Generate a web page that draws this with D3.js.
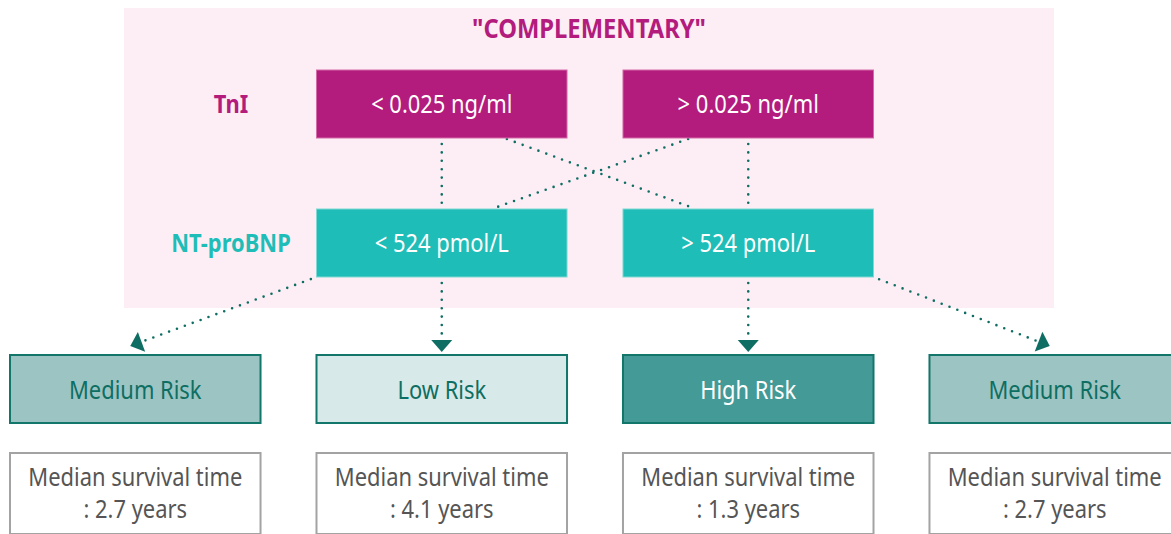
<!DOCTYPE html>
<html><head><meta charset="utf-8">
<script src="https://cdn.jsdelivr.net/npm/d3@7"></script>
<style>body{margin:0;background:#fff}svg{display:block}text{font-family:"Noto Sans",sans-serif}</style>
</head><body><svg id="c" width="1171" height="534"></svg>
<script>
// ---- data ----
const title = '"COMPLEMENTARY"';
const markerNames = ["TnI", "NT-proBNP"];
const tniLabels = ["< 0.025 ng/ml", "> 0.025 ng/ml"];
const bnpLabels = ["< 524 pmol/L", "> 524 pmol/L"];
const riskLabels = ["Medium Risk", "Low Risk", "High Risk", "Medium Risk"];
const riskLevels = ["medium", "low", "high", "medium"];
const survivalYears = ["2.7", "4.1", "1.3", "2.7"];
// TnI group -> NT-proBNP group
const tniToBnp = [[0, 0], [1, 1], [0, 1], [1, 0]];
// NT-proBNP group -> risk column
const bnpToRisk = [[0, 0], [0, 1], [1, 2], [1, 3]];

// ---- layout ----
const svg = d3.select("#c");
const col = d3.scaleBand().domain(d3.range(4)).range([10, 1180]).paddingInner(0.1826);
const W = col.bandwidth();
const row = {tni: [70, 68], bnp: [209, 68], risk: [355, 68], surv: [453, 81]};
const C = {
  pink: "#fdeef5", magenta: "#b31b7d", teal: "#1fbdb7", dot: "#0f6e63",
  riskFill: {medium: "#9cc4c2", low: "#d8e9e9", high: "#449a96"},
  riskText: {medium: "#0d6e62", low: "#0d6e62", high: "#ffffff"},
  riskStroke: "#13766b", survStroke: "#a3a3a3", survText: "#555555"
};
function label(g, x, y, txt, size, weight, fill, sx) {
  g.append("text").attr("transform", `translate(${x},${y}) scale(${sx || 0.86},1)`)
    .attr("text-anchor", "middle").attr("font-size", size).attr("font-weight", weight)
    .attr("fill", fill).text(txt);
}

// background panel
svg.append("rect").attr("x", 124).attr("y", 8).attr("width", 930).attr("height", 300).attr("fill", C.pink);
label(svg, 589, 38, title, 27, 700, C.magenta, 0.88);
label(svg, 231, row.tni[0] + 43, markerNames[0], 25.5, 700, C.magenta);
label(svg, 231, row.bnp[0] + 43, markerNames[1], 25.5, 700, C.teal);

// connectors
const lines = svg.append("g");
function dotted(x1, y1, x2, y2) {
  lines.append("line").attr("x1", x1).attr("y1", y1).attr("x2", x2).attr("y2", y2)
    .attr("stroke", C.dot).attr("stroke-width", 2.6).attr("stroke-linecap", "round")
    .attr("stroke-dasharray", "0 8.4");
}
function arrow(x1, y1, ax, ay) {
  const dx = ax - x1, dy = ay - y1, L = Math.hypot(dx, dy), ux = dx / L, uy = dy / L;
  const bx = ax - ux * 12, by = ay - uy * 12;
  dotted(x1 + ux * 6, y1 + uy * 6, bx - ux * 3, by - uy * 3);
  const px = -uy * 10.5, py = ux * 10.5;
  lines.append("path").attr("d", `M${ax},${ay}L${bx + px},${by + py}L${bx - px},${by - py}Z`).attr("fill", C.dot);
}
const tniFrac = {cross: [0.76, 0.26]};
const bnpFrac = {cross: [0.71, 0.28]};
tniToBnp.forEach(([a, b]) => {
  const y1 = row.tni[0] + row.tni[1], y2 = row.bnp[0];
  if (a === b) {
    const x = col(a + 1) + W / 2;
    dotted(x, y1 + 6, x, y2 - 4);
  } else {
    dotted(col(a + 1) + W * tniFrac.cross[a], y1 + 1, col(b + 1) + W * bnpFrac.cross[b], y2 - 1);
  }
});
bnpToRisk.forEach(([b, r]) => {
  const y1 = row.bnp[0] + row.bnp[1];
  const bl = col(b + 1);
  const cx = col(r) + W / 2;
  if (r === b + 1) {
    const x = bl + W / 2;
    arrow(x, y1, x, row.risk[0] - 3);
  } else {
    const sx = r < b + 1 ? bl : bl + W;
    arrow(sx, y1, cx - 5, row.risk[0] - 9);
  }
});

// marker boxes
const boxes = svg.append("g");
[[tniLabels, row.tni, C.magenta, "#d46aa8"], [bnpLabels, row.bnp, C.teal, "#7fd8d3"]].forEach(([labs, r, fill, st]) => {
  labs.forEach((t, i) => {
    boxes.append("rect").attr("x", col(i + 1)).attr("y", r[0]).attr("width", W).attr("height", r[1])
      .attr("fill", fill).attr("stroke", st).attr("stroke-width", 1);
    label(boxes, col(i + 1) + W / 2, r[0] + r[1] / 2 + 9, t, 25.5, 400, "#ffffff");
  });
});

// risk boxes
riskLabels.forEach((t, i) => {
  const lv = riskLevels[i];
  boxes.append("rect").attr("x", col(i)).attr("y", row.risk[0]).attr("width", W).attr("height", row.risk[1])
    .attr("fill", C.riskFill[lv]).attr("stroke", C.riskStroke).attr("stroke-width", 2);
  label(boxes, col(i) + W / 2, row.risk[0] + row.risk[1] / 2 + 10, t, 25.5, 400, C.riskText[lv]);
});

// survival boxes
survivalYears.forEach((v, i) => {
  boxes.append("rect").attr("x", col(i)).attr("y", row.surv[0]).attr("width", W).attr("height", row.surv[1])
    .attr("fill", "#fff").attr("stroke", C.survStroke).attr("stroke-width", 2);
  label(boxes, col(i) + W / 2, row.surv[0] + 33, "Median survival time", 25.5, 400, C.survText);
  label(boxes, col(i) + W / 2, row.surv[0] + 65, ": " + v + " years", 25.5, 400, C.survText);
});
</script></body></html>
